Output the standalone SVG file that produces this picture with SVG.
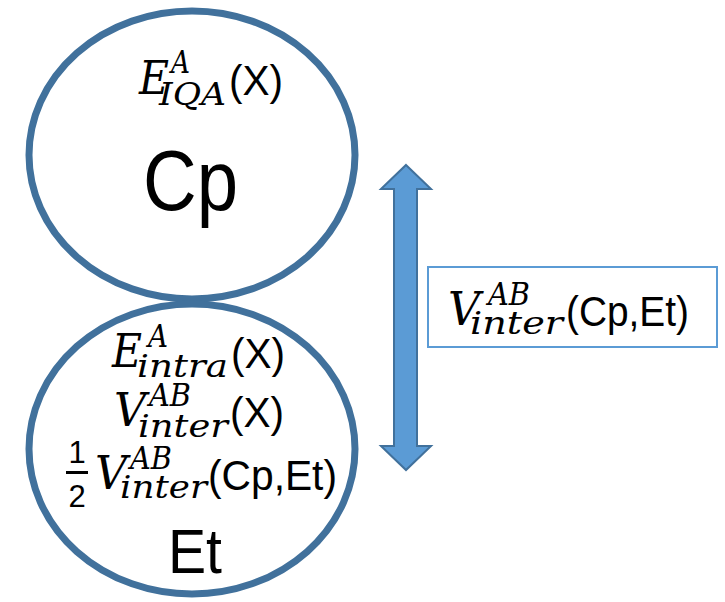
<svg xmlns="http://www.w3.org/2000/svg" width="725" height="602" viewBox="0 0 725 602">
<style>
.ell{fill:#ffffff;stroke:#41719C;stroke-width:7}
.m{font-family:"DejaVu Serif",serif;font-style:italic;font-size:47px;fill:#000}
.s{font-family:"DejaVu Serif",serif;font-style:italic;font-size:31px;fill:#000}
.u{font-family:"Liberation Sans",Arial,sans-serif;font-size:43px;fill:#000}
.big{font-family:"Liberation Sans",Arial,sans-serif;fill:#000}
.frac{font-family:"Liberation Sans",Arial,sans-serif;font-size:31px;fill:#000;text-anchor:middle}
</style>
<rect width="725" height="602" fill="#ffffff"/>
<g id="node-cp">
<ellipse class="ell" cx="192" cy="155" rx="163" ry="144"/>
<text class="m" x="139" y="94" textLength="30" lengthAdjust="spacingAndGlyphs">E</text>
<text class="s" x="171" y="73" textLength="19" lengthAdjust="spacingAndGlyphs">A</text>
<text class="s" x="159" y="105" textLength="67" lengthAdjust="spacingAndGlyphs">IQA</text>
<text class="u" x="229" y="95" textLength="54" lengthAdjust="spacingAndGlyphs">(X)</text>
<text class="big" x="143" y="210" font-size="86" textLength="95" lengthAdjust="spacingAndGlyphs">Cp</text>
</g>
<g id="node-et">
<ellipse class="ell" cx="192" cy="449" rx="163" ry="145"/>
<text class="m" x="112" y="367" textLength="30" lengthAdjust="spacingAndGlyphs">E</text>
<text class="s" x="148" y="347" textLength="20" lengthAdjust="spacingAndGlyphs">A</text>
<text class="s" x="137" y="377" textLength="91" lengthAdjust="spacingAndGlyphs">intra</text>
<text class="u" x="231" y="368" textLength="54" lengthAdjust="spacingAndGlyphs">(X)</text>
<text class="m" x="114" y="426" textLength="32" lengthAdjust="spacingAndGlyphs">V</text>
<text class="s" x="149" y="406" textLength="42" lengthAdjust="spacingAndGlyphs">AB</text>
<text class="s" x="138" y="437" textLength="90" lengthAdjust="spacingAndGlyphs">inter</text>
<text class="u" x="230" y="427" textLength="54" lengthAdjust="spacingAndGlyphs">(X)</text>
<text class="frac" x="77" y="463">1</text>
<rect x="66" y="471" width="22" height="3" fill="#000"/>
<text class="frac" x="77" y="507">2</text>
<text class="m" x="95" y="489" textLength="32" lengthAdjust="spacingAndGlyphs">V</text>
<text class="s" x="130" y="469" textLength="42" lengthAdjust="spacingAndGlyphs">AB</text>
<text class="s" x="120" y="498" textLength="87" lengthAdjust="spacingAndGlyphs">inter</text>
<text class="u" x="208" y="490" textLength="129" lengthAdjust="spacingAndGlyphs">(Cp,Et)</text>
<text class="big" x="168" y="573" font-size="63" textLength="54" lengthAdjust="spacingAndGlyphs">Et</text>
</g>
<g id="connectors">
<polygon points="406,165 431,189 417,189 417,446 431,446 406,470 381,446 394,446 394,189 381,189" fill="#5B9BD5" stroke="#41719C" stroke-width="2" stroke-linejoin="miter"/>
</g>
<g id="node-label">
<rect x="428" y="267" width="289" height="80" fill="#ffffff" stroke="#5B9BD5" stroke-width="2"/>
<text class="m" x="448" y="325" textLength="32" lengthAdjust="spacingAndGlyphs">V</text>
<text class="s" x="488" y="305" textLength="42" lengthAdjust="spacingAndGlyphs">AB</text>
<text class="s" x="470" y="334" textLength="93" lengthAdjust="spacingAndGlyphs">inter</text>
<text class="u" x="566" y="326" textLength="123" lengthAdjust="spacingAndGlyphs">(Cp,Et)</text>
</g>
</svg>
